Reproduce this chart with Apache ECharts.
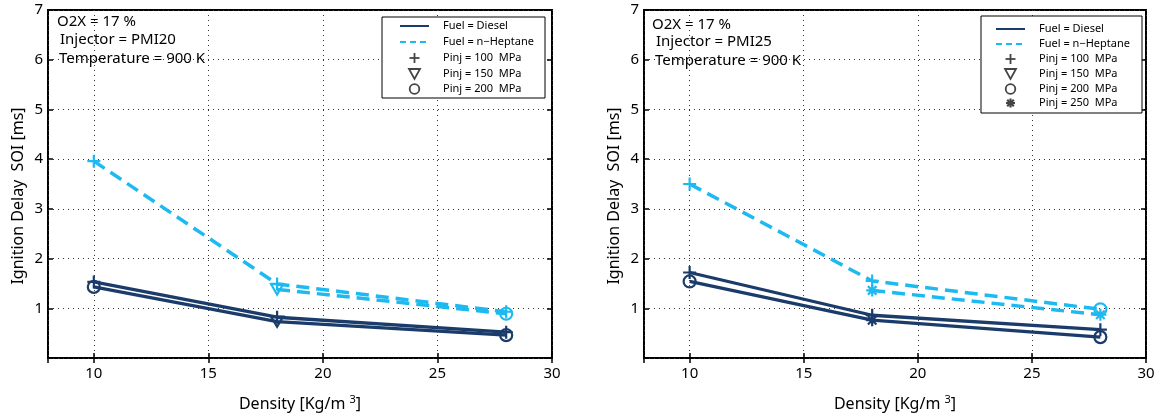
<!DOCTYPE html>
<html>
<head>
<meta charset="utf-8">
<script src="https://cdn.jsdelivr.net/npm/echarts@6/dist/echarts.min.js"></script>
<style>
html, body { margin: 0; padding: 0; background: #fff; }
#chart { width: 1165px; height: 417px; }
</style>
</head>
<body>
<div id="chart"></div>
<script>
// Ambient density of the measurement points [kg/m^3]
const density = [10, 18, 28];

// Injector PMI20 — ignition delay [ms]
const pmi20DieselA  = [1.53, 0.82, 0.52];
const pmi20DieselB  = [1.43, 0.73, 0.46];
const pmi20HeptaneA = [3.96, 1.49, 0.93];
const pmi20HeptaneB = [null, 1.38, 0.89];
const pmi20DieselAMarks  = ['plus', 'plus', 'plus'];
const pmi20DieselBMarks  = ['circle', 'tri', 'circle'];
const pmi20HeptaneAMarks = ['plus', 'plus', 'plus'];
const pmi20HeptaneBMarks = [null, 'tri', 'circle'];

// Injector PMI25 — ignition delay [ms]
const pmi25DieselA  = [1.72, 0.86, 0.57];
const pmi25DieselB  = [1.54, 0.76, 0.42];
const pmi25HeptaneA = [3.50, 1.55, 0.98];
const pmi25HeptaneB = [null, 1.36, 0.87];
const pmi25DieselAMarks  = ['plus', 'plus', 'plus'];
const pmi25DieselBMarks  = ['circle', 'star', 'circle'];
const pmi25HeptaneAMarks = ['plus', 'plus', 'circle'];
const pmi25HeptaneBMarks = [null, 'star', 'star'];

// Text blocks
const infoLeft  = ['O2X = 17 %', 'Injector = PMI20', 'Temperature = 900 K'];
const infoRight = ['O2X = 17 %', 'Injector = PMI25', 'Temperature = 900 K'];
const legendLeft  = ['Fuel = Diesel', 'Fuel = n\u2212Heptane', 'Pinj = 100  MPa', 'Pinj = 150  MPa', 'Pinj = 200  MPa'];
const legendRight = ['Fuel = Diesel', 'Fuel = n\u2212Heptane', 'Pinj = 100  MPa', 'Pinj = 150  MPa', 'Pinj = 200  MPa', 'Pinj = 250  MPa'];
const yTitle = 'Ignition Delay  SOI [ms]';
const xTitle = 'Density [Kg/m {sup|3}]';

const DIESEL = '#1b3c6b';
const HEPTANE = '#1db9f1';
const FONT = '"Noto Sans", "DejaVu Sans", sans-serif';

const SYM = {
  plus: 'path://M5,0L5,10M0,5L10,5',
  tri: 'path://M0,0L10,0L5,8.66Z',
  circle: 'circle',
  star: 'path://M5,0L5,10M0,5L10,5M1.46,1.46L8.54,8.54M8.54,1.46L1.46,8.54'
};
const SYM_SIZE = { plus: 13, tri: 12, circle: 12, star: 12 };

function curve(gi, vals, marks, color, dashed) {
  const data = [];
  density.forEach((x, i) => {
    if (vals[i] == null) return;
    data.push({ value: [x, vals[i]], symbol: SYM[marks[i]], symbolSize: SYM_SIZE[marks[i]] });
  });
  return {
    type: 'line',
    xAxisIndex: gi * 2,
    yAxisIndex: gi * 2,
    data: data,
    showSymbol: true,
    symbolKeepAspect: true,
    lineStyle: { color: color, width: dashed ? 3.5 : 3.3, type: dashed ? [13, 7] : 'solid' },
    itemStyle: { color: 'transparent', borderColor: color, borderWidth: 2.2 },
    silent: true,
    animation: false,
    z: dashed ? 3 : 4
  };
}

function xAxes(gi) {
  const base = {
    gridIndex: gi, type: 'value', min: 8, max: 30,
    axisLine: { show: false },
    axisTick: { show: true, inside: true, length: 5, lineStyle: { color: '#000', width: 1.5 } }
  };
  return [
    Object.assign({}, base, {
      position: 'bottom',
      axisLabel: { showMinLabel: false, color: '#000', fontSize: 15, fontFamily: FONT, margin: 8 },
      splitLine: { show: true, lineStyle: { color: '#333', width: 1, type: [1, 4] } },
      name: xTitle, nameLocation: 'middle', nameGap: 36,
      nameTextStyle: { color: '#000', fontSize: 16, fontFamily: FONT,
        rich: { sup: { fontSize: 11, verticalAlign: 'top', padding: [0, 0, 9, 0], fontFamily: FONT, color: '#000' } } }
    }),
    Object.assign({}, base, {
      position: 'top', axisLabel: { show: false }, splitLine: { show: false }
    })
  ];
}

function yAxes(gi) {
  const base = {
    gridIndex: gi, type: 'value', min: 0, max: 7, interval: 1,
    axisLine: { show: false },
    axisTick: { show: true, inside: true, length: 5, lineStyle: { color: '#000', width: 1.5 } }
  };
  return [
    Object.assign({}, base, {
      position: 'left',
      axisLabel: { showMinLabel: false, color: '#000', fontSize: 15, fontFamily: FONT, margin: 5 },
      splitLine: { show: true, lineStyle: { color: '#333', width: 1, type: [1, 4] } },
      name: yTitle, nameLocation: 'middle', nameGap: 22, nameRotate: 90,
      nameTextStyle: { color: '#000', fontSize: 16, fontFamily: FONT, padding: [0, 24, 0, 0] }
    }),
    Object.assign({}, base, {
      position: 'right', axisLabel: { show: false }, splitLine: { show: false }
    })
  ];
}

// Legend box drawn with graphic primitives
function legendBox(x, y, w, h, rows, rowY, iconX0, iconX1, textX, labels) {
  const els = [{
    type: 'rect', shape: { x: x, y: y, width: w, height: h },
    style: { fill: '#fff', stroke: '#000', lineWidth: 1 }, z: 10
  }];
  const cx = (iconX0 + iconX1) / 2;
  const gray = '#444';
  rows.forEach((kind, i) => {
    const ry = rowY[i];
    if (kind === 'diesel') {
      els.push({ type: 'line', shape: { x1: iconX0, y1: ry, x2: iconX1, y2: ry }, style: { stroke: DIESEL, lineWidth: 2 }, z: 11 });
    } else if (kind === 'heptane') {
      els.push({ type: 'line', shape: { x1: iconX0, y1: ry, x2: iconX1, y2: ry }, style: { stroke: HEPTANE, lineWidth: 2, lineDash: [6, 4] }, z: 11 });
    } else if (kind === 'plus') {
      els.push({ type: 'polyline', shape: { points: [[cx, ry - 5], [cx, ry + 5]] }, style: { stroke: gray, lineWidth: 1.8, fill: null }, z: 11 });
      els.push({ type: 'polyline', shape: { points: [[cx - 5, ry], [cx + 5, ry]] }, style: { stroke: gray, lineWidth: 1.8, fill: null }, z: 11 });
    } else if (kind === 'tri') {
      els.push({ type: 'polygon', shape: { points: [[cx - 5.5, ry - 5], [cx + 5.5, ry - 5], [cx, ry + 5]] }, style: { stroke: gray, lineWidth: 1.8, fill: 'none' }, z: 11 });
    } else if (kind === 'circle') {
      els.push({ type: 'circle', shape: { cx: cx, cy: ry, r: 4.8 }, style: { stroke: gray, lineWidth: 1.8, fill: 'none' }, z: 11 });
    } else if (kind === 'star') {
      const s = 4.5, d = 3.3;
      [[[cx, ry - s], [cx, ry + s]], [[cx - s, ry], [cx + s, ry]], [[cx - d, ry - d], [cx + d, ry + d]], [[cx + d, ry - d], [cx - d, ry + d]]]
        .forEach(p => els.push({ type: 'polyline', shape: { points: p }, style: { stroke: gray, lineWidth: 2.2, fill: null }, z: 11 }));
    }
    els.push({ type: 'text', x: textX, y: ry, style: { text: labels[i], fill: '#000', font: '11px ' + FONT, verticalAlign: 'middle' }, z: 11 });
  });
  return els;
}

function infoText(x, ys, lines, xs) {
  return lines.map((t, i) => ({
    type: 'text', x: x + xs[i], y: ys[i],
    style: { text: t, fill: '#000', font: '15px ' + FONT, verticalAlign: 'middle' }, z: 9
  }));
}

const chart = echarts.init(document.getElementById('chart'), null, { renderer: 'canvas' });
chart.setOption({
  animation: false,
  backgroundColor: '#fff',
  grid: [
    { left: 48, right: 613, top: 10, bottom: 59, show: true, borderColor: '#000', borderWidth: 2, backgroundColor: 'transparent' },
    { left: 644, right: 19, top: 10, bottom: 59, show: true, borderColor: '#000', borderWidth: 2, backgroundColor: 'transparent' }
  ],
  xAxis: [].concat(xAxes(0), xAxes(1)),
  yAxis: [].concat(yAxes(0), yAxes(1)),
  series: [
    curve(0, pmi20HeptaneA, pmi20HeptaneAMarks, HEPTANE, true),
    curve(0, pmi20HeptaneB, pmi20HeptaneBMarks, HEPTANE, true),
    curve(0, pmi20DieselA, pmi20DieselAMarks, DIESEL, false),
    curve(0, pmi20DieselB, pmi20DieselBMarks, DIESEL, false),
    curve(1, pmi25HeptaneA, pmi25HeptaneAMarks, HEPTANE, true),
    curve(1, pmi25HeptaneB, pmi25HeptaneBMarks, HEPTANE, true),
    curve(1, pmi25DieselA, pmi25DieselAMarks, DIESEL, false),
    curve(1, pmi25DieselB, pmi25DieselBMarks, DIESEL, false)
  ],
  graphic: [].concat(
    infoText(57, [22, 40, 59], infoLeft, [0, 3, 2]),
    infoText(652, [25, 42, 61], infoRight, [0, 4, 3]),
    legendBox(382, 17, 163, 81, ['diesel', 'heptane', 'plus', 'tri', 'circle'], [26, 42, 58, 74, 89], 400, 429, 443, legendLeft),
    legendBox(981, 16, 161, 97, ['diesel', 'heptane', 'plus', 'tri', 'circle', 'star'], [29, 44, 59, 74, 89, 103], 996, 1025, 1039, legendRight)
  )
});
</script>
</body>
</html>
